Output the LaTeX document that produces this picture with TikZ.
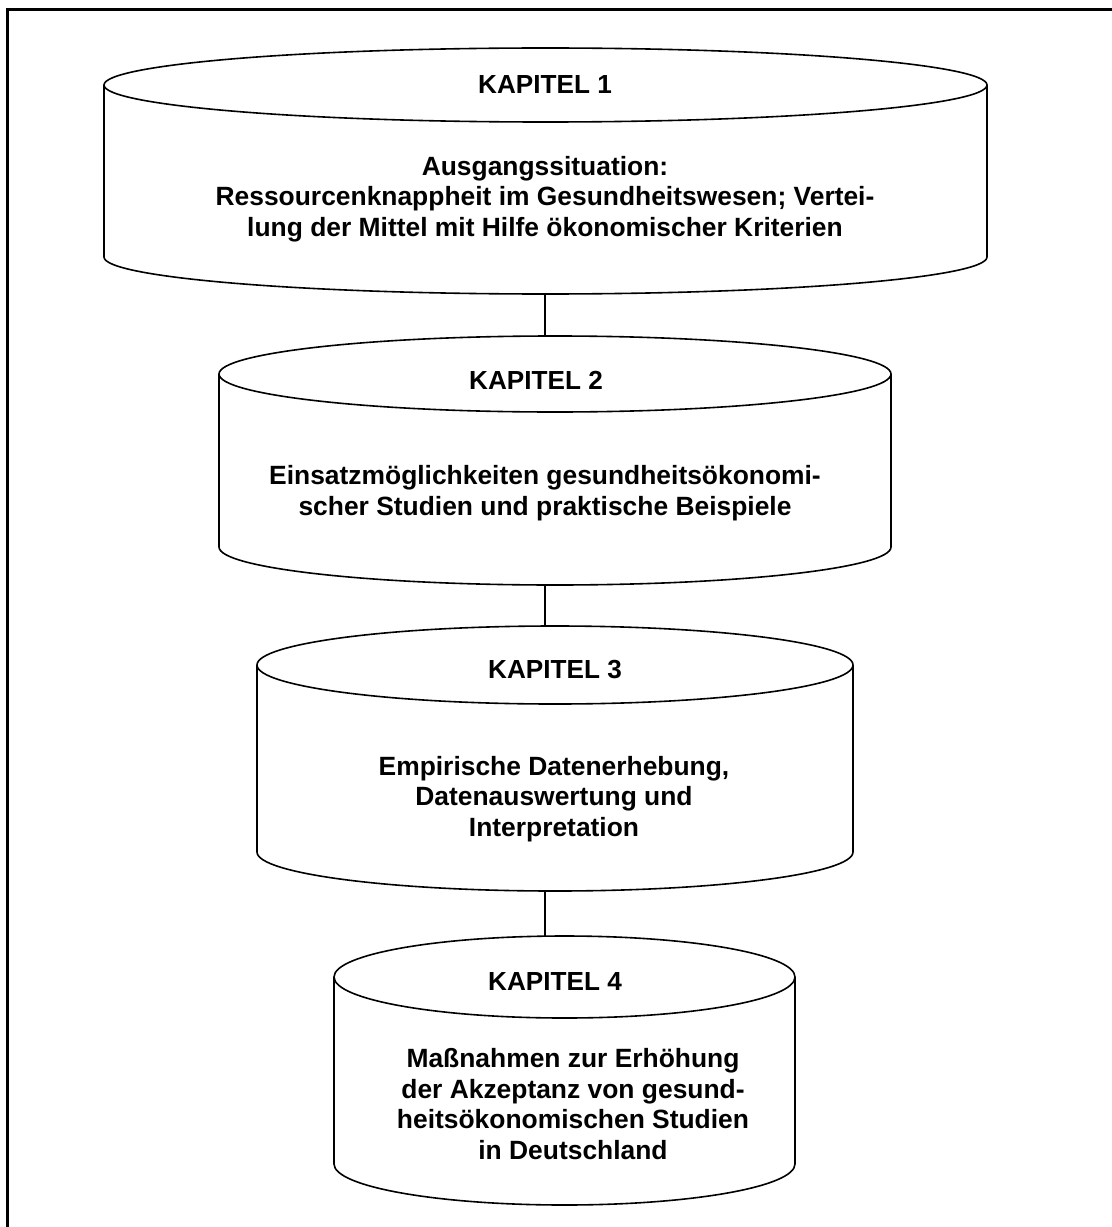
\documentclass[tikz,border=0pt]{standalone}
\usepackage{fontspec}
\setmainfont{Liberation Sans}
\usetikzlibrary{fit}
\newcommand\drawcylinder[5]{% xl xr yt yb ry
  \pgfmathsetmacro\cylcx{(#1+#2)/2}%
  \pgfmathsetmacro\cylrx{(#2-#1)/2}%
  \draw[cylline] (\cylcx,#3) ellipse [x radius=\cylrx, y radius=#5];
  \draw[cylline] (#1,#3) -- (#1,#4) arc[start angle=180, end angle=0, x radius=\cylrx, y radius=#5] -- (#2,#3);
}
\begin{document}
\begin{tikzpicture}[x=0.75pt,y=-0.75pt,
  cylline/.style={line width=1.2pt, black},
  frameline/.style={line width=1.6pt, black},
  conn/.style={line width=0.8pt, black},
  cylbox/.style={inner sep=0pt, draw=none},
  title/.style={font=\bfseries\fontsize{19.6}{22.5}\selectfont, inner sep=0pt},
  body/.style={font=\bfseries\fontsize{19.8}{22.8}\selectfont, align=center, inner sep=0pt}]
\useasboundingbox (0,0) rectangle (1112,1227);
\begin{scope}
  \clip (0,0) rectangle (1112,1227);
  \draw[frameline] (1160,9.5) -- (7.5,9.5) -- (7.5,1280);
\end{scope}
% cylinders
\drawcylinder{104}{987}{85}{257}{37}
\drawcylinder{219}{891}{374}{547}{38}
\drawcylinder{257}{853}{665}{852}{39}
\drawcylinder{334}{795}{977}{1164}{41}
\node[cylbox, fit={(104,48) (987,294)}] (k1) {};
\node[cylbox, fit={(219,336) (891,585)}] (k2) {};
\node[cylbox, fit={(257,626) (853,891)}] (k3) {};
\node[cylbox, fit={(334,936) (795,1205)}] (k4) {};
% connectors
\draw[conn] (k1.south -| 545,0) -- (k2.north -| 545,0);
\draw[conn] (k2.south -| 545,0) -- (k3.north -| 545,0);
\draw[conn] (k3.south -| 545,0) -- (k4.north -| 545,0);
% texts
\node[title] (t1) at (545,85) {KAPITEL 1};
\node[body] (b1) at (545,199) {Ausgangssituation:\\Ressourcenknappheit im Gesundheitswesen; Vertei-\\lung der Mittel mit Hilfe ökonomischer Kriterien};
\node[title] (t2) at (536,380) {KAPITEL 2};
\node[body] (b2) at (545,493) {Einsatzmöglichkeiten gesundheitsökonomi-\\scher Studien und praktische Beispiele};
\node[title] (t3) at (555,670) {KAPITEL 3};
\node[body] (b3) at (554,799) {Empirische Datenerhebung,\\Datenauswertung und\\Interpretation};
\node[title] (t4) at (555,981) {KAPITEL 4};
\node[body] (b4) at (573,1104) {Maßnahmen zur Erhöhung\\der Akzeptanz von gesund-\\heitsökonomischen Studien\\in Deutschland};
\end{tikzpicture}
\end{document}
